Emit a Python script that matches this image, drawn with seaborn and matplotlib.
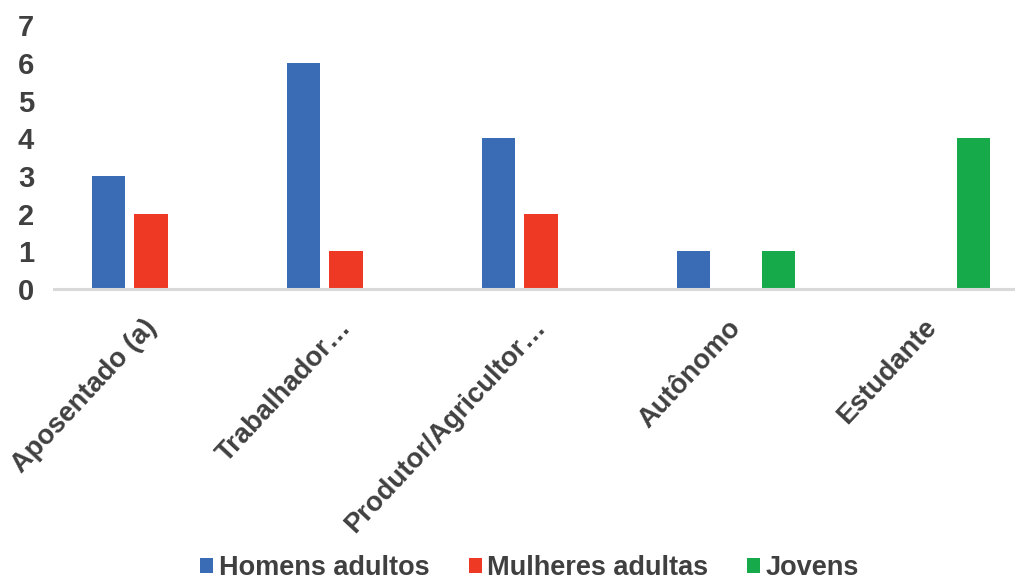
import matplotlib
matplotlib.use("Agg")
import matplotlib.pyplot as plt
import matplotlib.transforms as mtransforms
import seaborn as sns
import pandas as pd
from matplotlib.patches import Patch

categories = ["Aposentado (a)", "Trabalhador…", "Produtor/Agricultor…", "Autônomo", "Estudante"]
series_names = ["Homens adultos", "Mulheres adultas", "Jovens"]
homens = [3, 6, 4, 1, 0]
mulheres = [2, 1, 2, 0, 0]
jovens = [0, 0, 0, 1, 4]
colors = ["#3A6BB5", "#EE3A24", "#17AA4B"]

rows = []
for vals, name in zip([homens, mulheres, jovens], series_names):
    for c, v in zip(categories, vals):
        rows.append({"cat": c, "serie": name, "val": v})
df = pd.DataFrame(rows)

sns.set_style("white")
plt.rcParams['font.family'] = ['Liberation Sans', 'DejaVu Sans']

W, H = 1015, 581
fig = plt.figure(figsize=(W/100, H/100), dpi=100)
ax = fig.add_axes([53.5/W, 1-289/H, 975/W, (289-25.5)/H])

sns.barplot(data=df, x="cat", y="val", hue="serie", order=categories,
            hue_order=series_names, palette=colors, saturation=1,
            width=0.66, gap=0.23, linewidth=0, ax=ax, legend=False)

ax.set_xlim(-0.5, 4.5)
ax.set_ylim(0, 7)
ax.set_yticks(range(0, 8))
ax.set_xlabel("")
ax.set_ylabel("")
for s in ["top", "right", "left"]:
    ax.spines[s].set_visible(False)
ax.spines["bottom"].set_color("#D9D9D9")
ax.spines["bottom"].set_linewidth(2.2)
ax.tick_params(axis="y", length=0, pad=14, labelsize=21, labelcolor="#404040")
ax.tick_params(axis="x", length=0, pad=25, labelsize=19.7, labelcolor="#404040")
for lab in ax.get_yticklabels():
    lab.set_fontweight("bold")
ax.set_xticks(range(len(categories)))
ax.set_xticklabels(categories, rotation=47, ha="right", va="center",
                   rotation_mode="anchor", fontweight="bold")
offset = mtransforms.ScaledTranslation(1/100, 0, fig.dpi_scale_trans)
for lab in ax.get_xticklabels():
    lab.set_transform(lab.get_transform() + offset)

handles = [Patch(facecolor=c, edgecolor="none") for c in colors]
fig.legend(handles, series_names, loc="center", bbox_to_anchor=(0.522, 1 - 568/H),
           ncol=3, frameon=False, handlelength=0.48, handleheight=0.48,
           handletextpad=0.2, columnspacing=1.45,
           prop={"size": 19.5, "weight": "bold"}, labelcolor="#404040")

fig.savefig("out.png", dpi=100)
